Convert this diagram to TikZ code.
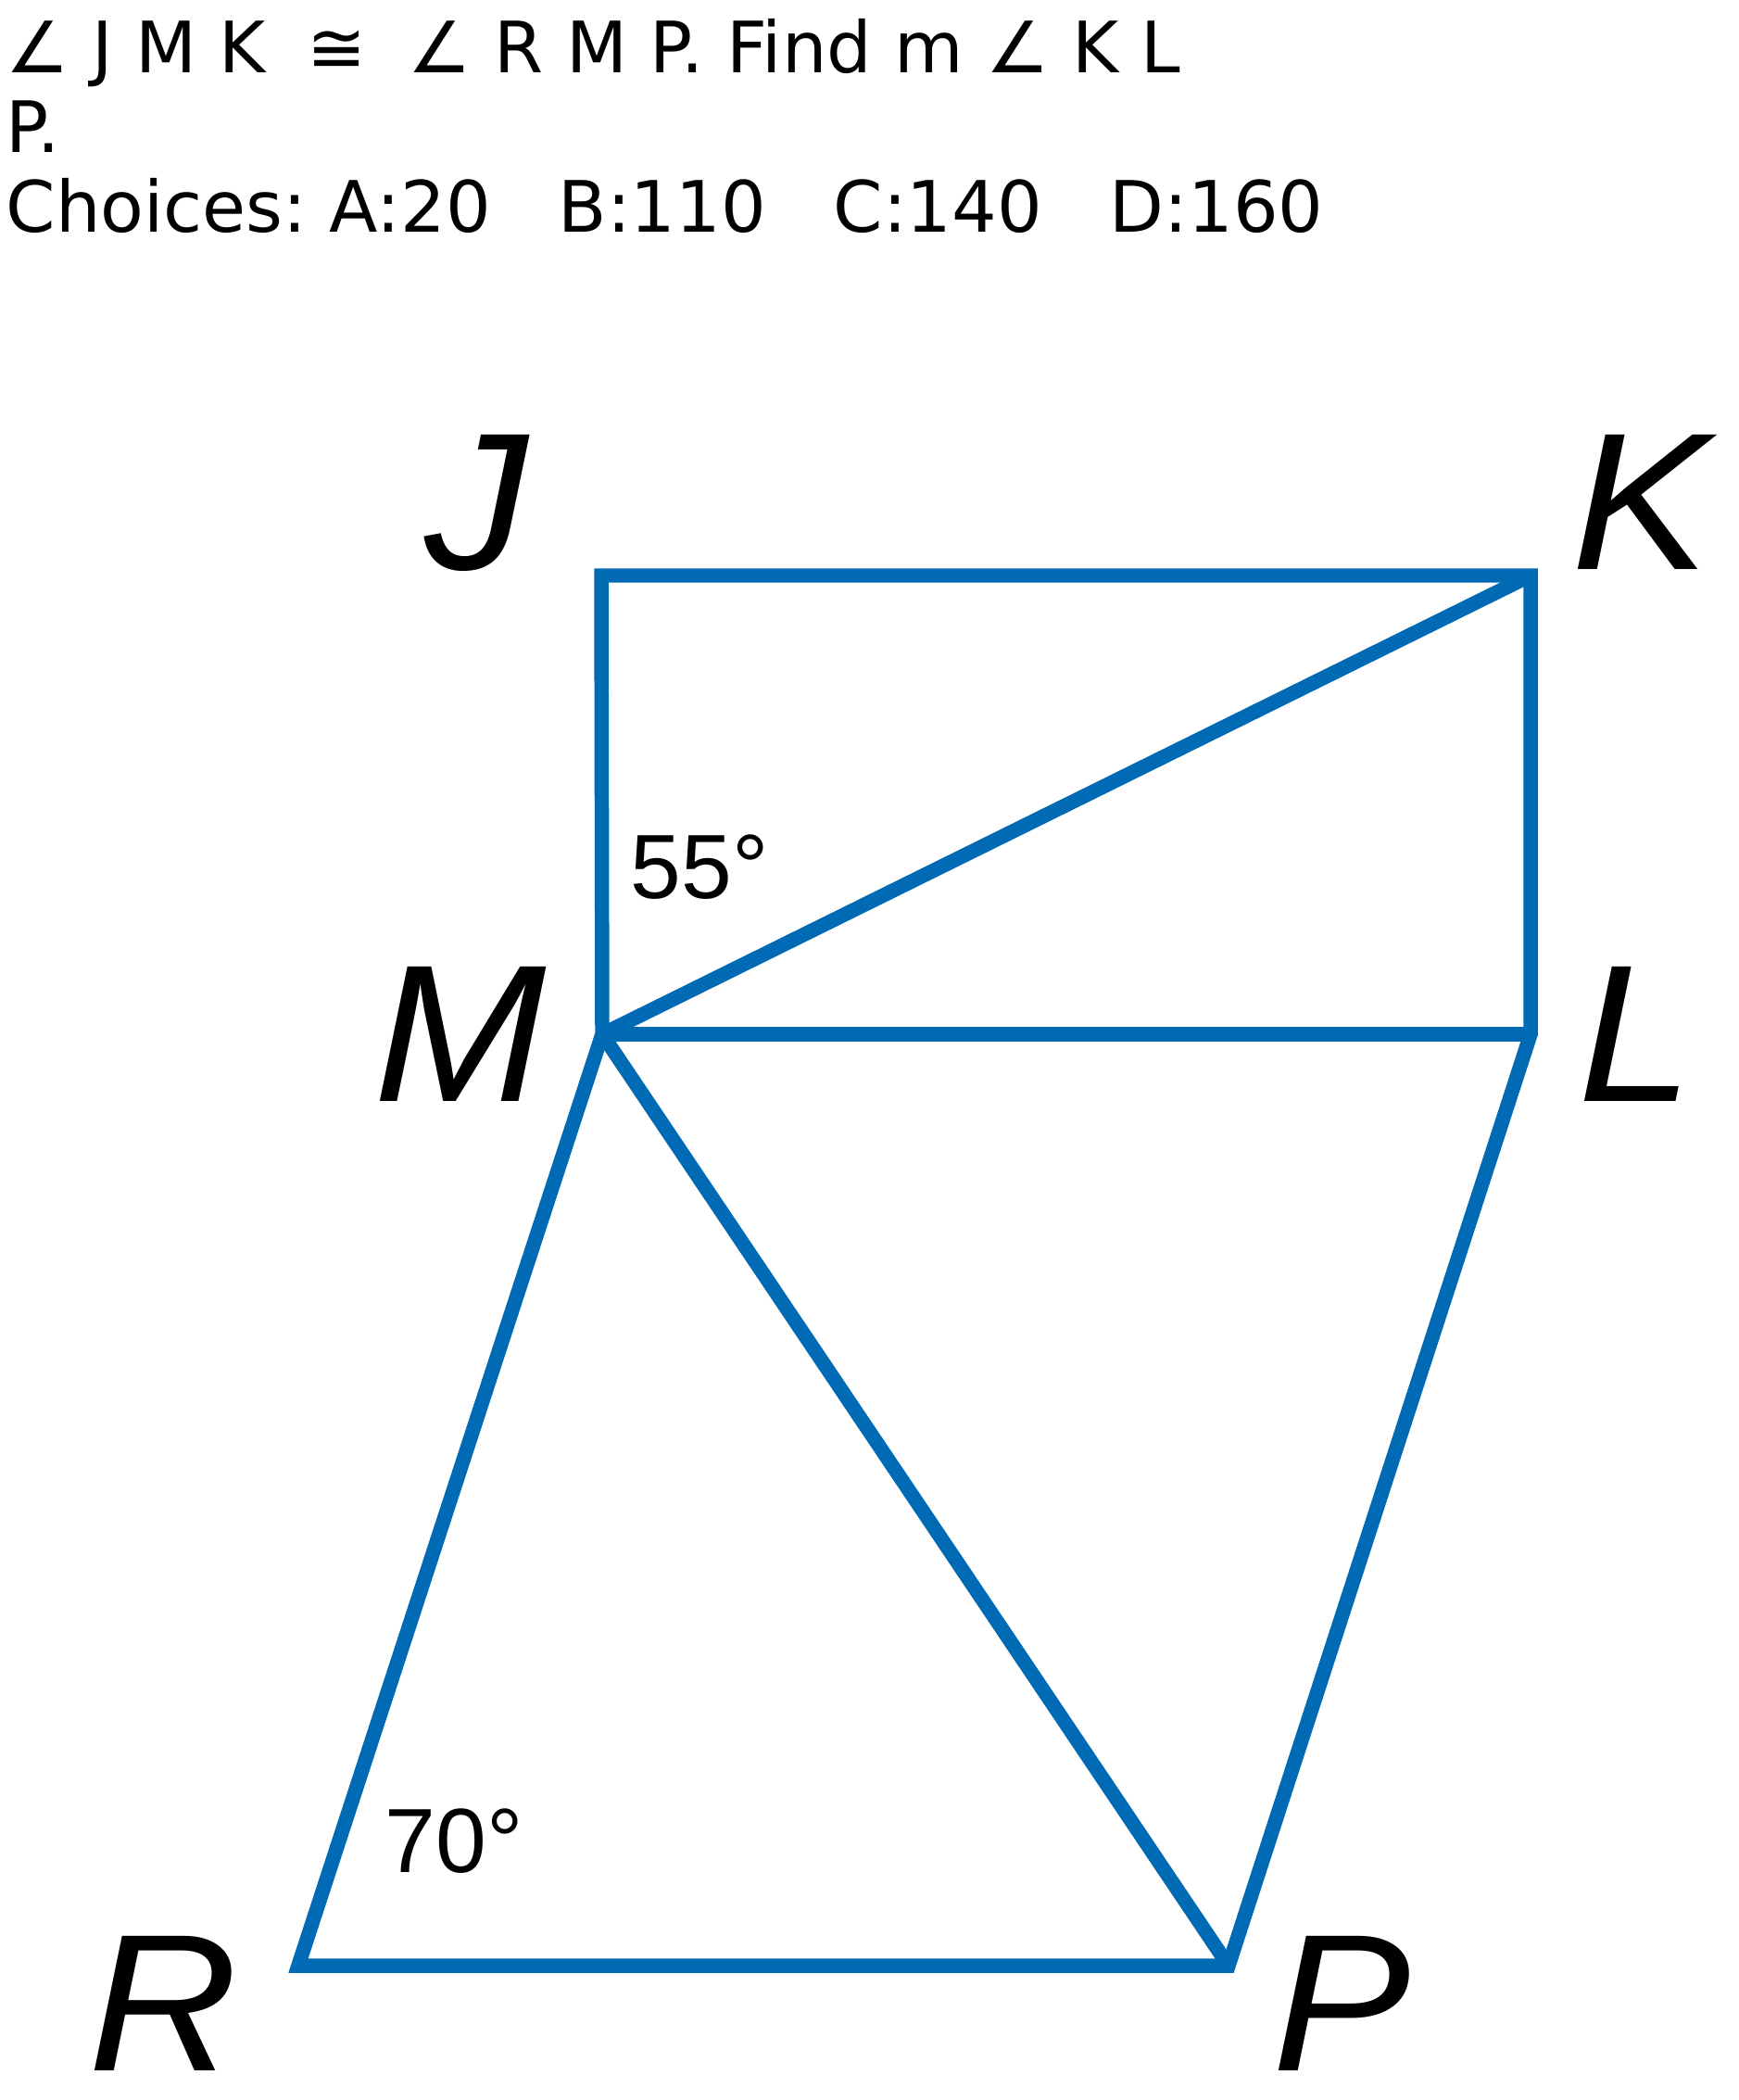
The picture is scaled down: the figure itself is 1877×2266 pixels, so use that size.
\documentclass[tikz,border=0pt]{standalone}
\usepackage{fontspec}
\setmainfont{DejaVu Sans}
\newfontfamily\lblfont{Liberation Sans}
\definecolor{figblue}{RGB}{0,106,180}
\newcommand{\widelbl}[1]{\scalebox{1.06}[1]{#1}}
\tikzset{
  seg/.style={figblue, line width=4.4pt, line join=miter},
  vlabel/.style={anchor=base, inner sep=0pt, text depth=0pt, font=\lblfont\itshape\fontsize{60}{60}\selectfont},
  angtext/.style={anchor=base, inner sep=0pt, text depth=0pt, font=\lblfont\fontsize{28}{28}\selectfont},
  qline/.style={anchor=base west, inner sep=0pt, font=\frenchspacing\fontsize{21.75}{25}\selectfont}
}

\begin{document}
\begin{tikzpicture}[x=0.01cm, y=-0.01cm]
  \useasboundingbox (0,0) rectangle (1877,2266);
  % question
  \node[qline] (q1) at (6,78) {∠ J M K\hspace{0.27em} ≅ \hspace{0.27em}∠ R M P. Find m ∠ K L};
  \node[qline] (q2) at (6,164) {P.};
  \node[qline] (q3) at (6,250) {Choices: A:20\ \ \ B:110\ \ \ C:140\ \ \ D:160};
  % corners
  \coordinate (J) at (649,621);
  \coordinate (K) at (1652,621);
  \coordinate (M) at (650,1116);
  \coordinate (L) at (1652,1116);
  \coordinate (R) at (322,2121);
  \coordinate (P) at (1326,2121);
  % segments
  \draw[seg] (M) -- (J) -- (K) -- (L) -- (P) -- (R) -- cycle;
  \draw[seg] (M) -- (K);
  \draw[seg] (M) -- (L);
  \draw[seg] (M) -- (P);
  % labels
  \node[vlabel] (lJ) at (514,614) {\widelbl{J}};
  \node[vlabel] (lK) at (1771,614) {\widelbl{K}};
  \node[vlabel] (lM) at (497,1188) {\widelbl{M}};
  \node[vlabel] (lL) at (1766,1188) {\widelbl{L}};
  \node[vlabel] (lR) at (176,2234) {\widelbl{R}};
  \node[vlabel] (lP) at (1448,2234) {\widelbl{P}};
  \node[angtext] (a55) at (755,969) {55°};
  \node[angtext] (a70) at (490,2020) {70°};
\end{tikzpicture}
\end{document}
